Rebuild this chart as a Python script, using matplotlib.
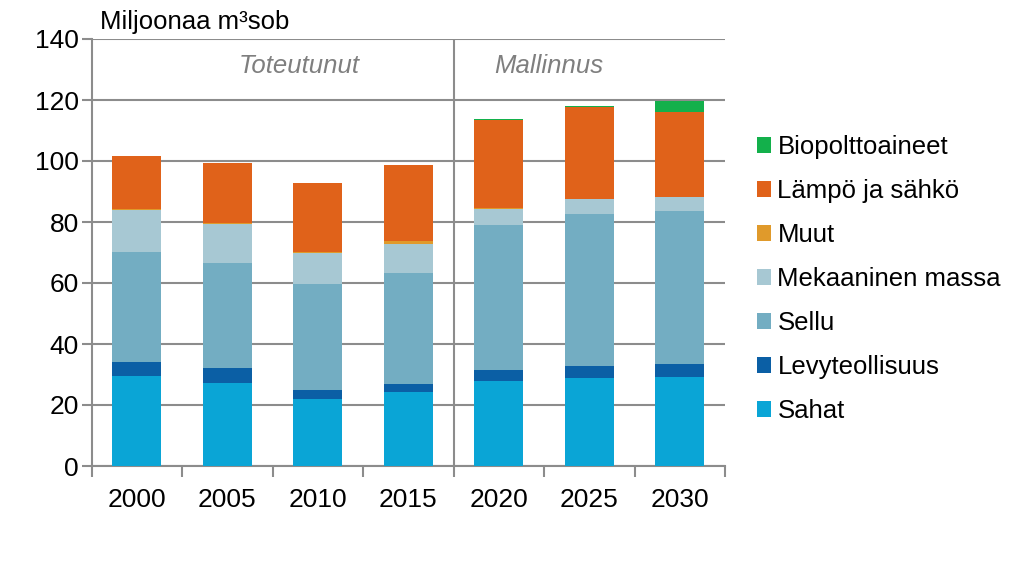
import matplotlib
matplotlib.use("Agg")
import matplotlib.pyplot as plt
from matplotlib.patches import Patch
import numpy as np

plt.rcParams['font.family'] = ['Liberation Sans', 'DejaVu Sans']

years = ["2000", "2005", "2010", "2015", "2020", "2025", "2030"]
sahat = [29.6, 27.3, 22.1, 24.2, 27.9, 29.0, 29.3]
levyteollisuus = [4.6, 4.8, 2.8, 2.7, 3.6, 3.8, 4.1]
sellu = [36.1, 34.4, 34.8, 36.5, 47.4, 49.9, 50.3]
mekaaninen = [13.5, 12.7, 10.3, 9.3, 5.5, 4.7, 4.4]
muut = [0.3, 0.4, 0.3, 1.1, 0.2, 0.3, 0.2]
lampo = [17.6, 19.6, 22.5, 25.0, 28.9, 30.0, 27.8]
bio = [0.0, 0.0, 0.0, 0.0, 0.2, 0.4, 3.7]

series = [
    ("Sahat", sahat, "#0AA5D6"),
    ("Levyteollisuus", levyteollisuus, "#0B5FA5"),
    ("Sellu", sellu, "#73ADC2"),
    ("Mekaaninen massa", mekaaninen, "#A7C8D3"),
    ("Muut", muut, "#E09A2B"),
    ("Lämpö ja sähkö", lampo, "#E0621A"),
    ("Biopolttoaineet", bio, "#13B04B"),
]

period_labels = ["Toteutunut", "Mallinnus"]

fig = plt.figure(figsize=(10.24, 5.67), dpi=100)
ax = fig.add_axes([91.5 / 1024, 1 - 466 / 567, (725 - 91.5) / 1024, (466 - 39) / 567])

grid_c = "#8C8C8C"
x = np.arange(len(years))
bottom = np.zeros(len(years))
for name, vals, col in series:
    vals = np.array(vals)
    ax.bar(x, vals, width=0.54, bottom=bottom, color=col, zorder=3, linewidth=0)
    bottom += vals

ax.set_xlim(-0.5, len(years) - 0.5)
ax.set_ylim(0, 140)
ax.set_yticks(np.arange(0, 141, 20))
ax.yaxis.grid(True, color=grid_c, linewidth=1.5, zorder=0)
ax.set_axisbelow(True)

ax.set_xticks(x)
ax.set_xticklabels(years, fontsize=19)
ax.set_xticks(np.arange(-0.5, len(years)), minor=True)
ax.tick_params(axis='x', which='major', length=0, pad=16)
ax.tick_params(axis='x', which='minor', length=8, width=1.5, color=grid_c, direction='out')
ax.tick_params(axis='y', length=7, width=1.5, color=grid_c, labelsize=19, pad=2)

for s in ["top", "right"]:
    ax.spines[s].set_visible(False)
for s in ["left", "bottom"]:
    ax.spines[s].set_color(grid_c)
    ax.spines[s].set_linewidth(1.5)

# divider
ax.axvline(3.5, color=grid_c, linewidth=1.5, zorder=1)
ax.text(1.8, 131.3, period_labels[0], ha='center', va='center', fontsize=18.5,
        style='italic', color='#7F7F7F')
ax.text(4.55, 131.3, period_labels[1], ha='center', va='center', fontsize=18.5,
        style='italic', color='#7F7F7F')

fig.text(100 / 1024, 1 - 22 / 567, "Miljoonaa m³sob", fontsize=18.5, va='center', ha='left')

handles = [Patch(facecolor=c, label=n) for n, _, c in series][::-1]
leg = fig.legend(handles=handles, loc='center left', bbox_to_anchor=(744 / 1024, 1 - 279 / 567),
                 frameon=False, fontsize=18.5, handlelength=0.55, handleheight=0.55,
                 handletextpad=0.25, labelspacing=0.78, borderpad=0)

fig.savefig("out.png", dpi=100)
